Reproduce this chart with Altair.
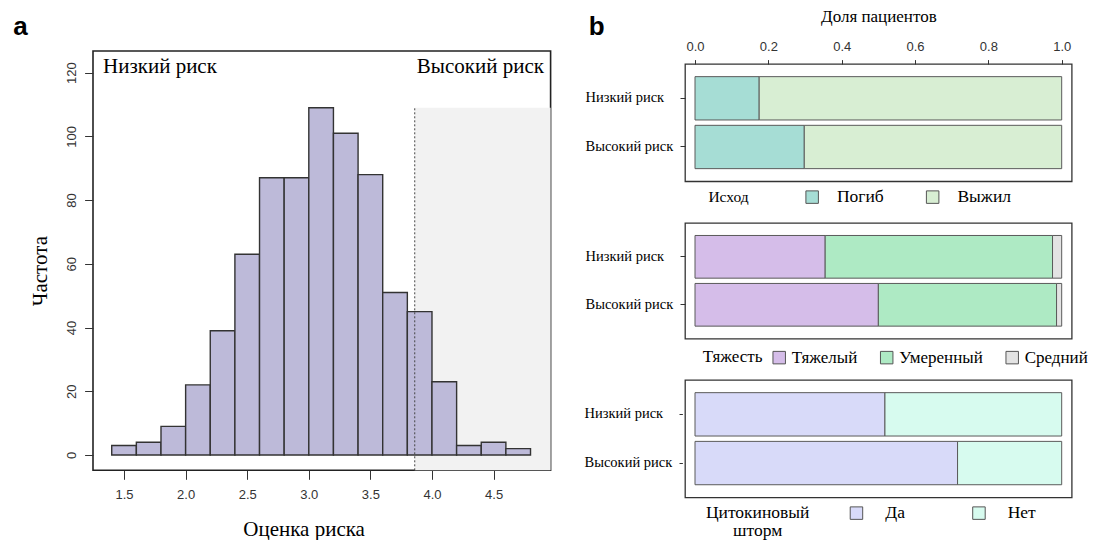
import altair as alt
import pandas as pd

# ---------- panel a: distribution of the risk score ----------
BIN_EDGES = [1.4, 1.6, 1.8, 2.0, 2.2, 2.4, 2.6, 2.8, 3.0, 3.2, 3.4,
             3.6, 3.8, 4.0, 4.2, 4.4, 4.6, 4.8]
BIN_COUNTS = [3, 4, 9, 22, 39, 63, 87, 87, 109, 101, 88, 51, 45, 23, 3, 4, 2]
RISK_CUTOFF = 3.86
SCORE_TICKS = [1.5, 2.0, 2.5, 3.0, 3.5, 4.0, 4.5]
COUNT_TICKS = [0, 20, 40, 60, 80, 100, 120]

# ---------- panel b: shares of patients by risk group ----------
GROUPS = ["Низкий риск", "Высокий риск"]
OUTCOME = ["Погиб", "Выжил"]
OUTCOME_LOW = [0.175, 0.825]
OUTCOME_HIGH = [0.298, 0.702]
SEVERITY = ["Тяжелый", "Умеренный", "Средний"]
SEVERITY_LOW = [0.355, 0.620, 0.025]
SEVERITY_HIGH = [0.500, 0.486, 0.014]
STORM = ["Да", "Нет"]
STORM_LOW = [0.518, 0.482]
STORM_HIGH = [0.716, 0.284]
SHARE_TICKS = [0.0, 0.2, 0.4, 0.6, 0.8, 1.0]

SERIF = "Liberation Serif"
SANS = "Liberation Sans"

# ---------------- panel a ----------------
A_W, A_H = 457.6, 419.3
X_DOM = [1.248, 4.963]
Y_DOM = [-4.8, 126.8]
peak = max(BIN_COUNTS)

hist = pd.DataFrame({"start": BIN_EDGES[:-1], "end": BIN_EDGES[1:], "count": BIN_COUNTS})
zone = pd.DataFrame({"x": [RISK_CUTOFF], "x2": [X_DOM[1]], "y": [Y_DOM[0]], "y2": [peak]})
one = pd.DataFrame({"k": [0]})

x_axis_a = alt.Axis(values=SCORE_TICKS, format=".1f", domain=False, grid=False,
                    tickSize=9, tickColor="#333", tickWidth=1,
                    labelFont=SANS, labelFontSize=13, labelColor="#333",
                    labelPadding=9.4, labelFlush=False,
                    title="Оценка риска", titleFont=SERIF, titleFontSize=21,
                    titleFontWeight="normal", titleColor="black",
                    titleX=210.6, titleY=65.2, titleAlign="center",
                    titleBaseline="alphabetic")
y_axis_a = alt.Axis(values=COUNT_TICKS, format="d", domain=False, grid=False,
                    tickSize=8.4, tickColor="#333", tickWidth=1,
                    labelAngle=270, labelAlign="center", labelBaseline="bottom",
                    labelFont=SANS, labelFontSize=13, labelColor="#333",
                    labelPadding=6, labelFlush=False,
                    title="Частота", titleFont=SERIF, titleFontSize=21,
                    titleFontWeight="normal", titleColor="black",
                    titleAngle=270, titleX=-46.7, titleY=219.6,
                    titleAlign="center", titleBaseline="alphabetic")
x_scale_a = alt.Scale(domain=X_DOM, nice=False, zero=False)
y_scale_a = alt.Scale(domain=Y_DOM, nice=False, zero=False)


def xa(field):
    return alt.X(f"{field}:Q", scale=x_scale_a, axis=x_axis_a)


def ya(field):
    return alt.Y(f"{field}:Q", scale=y_scale_a, axis=y_axis_a)


high_zone = alt.Chart(zone).mark_rect(color="#f2f2f2").encode(
    x=xa("x"), x2="x2", y=ya("y"), y2="y2")

bars_a = alt.Chart(hist).transform_calculate(base="0").mark_rect(
    fill="#bdbad9", stroke="#333", strokeWidth=1.4
).encode(x=xa("start"), x2="end", y=ya("count"), y2="base:Q")

cutoff_line = alt.Chart(zone).mark_rule(
    color="#444", strokeWidth=1, strokeDash=[2, 2]
).encode(x=xa("x"), y=ya("y"), y2="y2")

low_label = alt.Chart(one).mark_text(
    text="Низкий риск", font=SERIF, fontSize=21, align="left",
    baseline="alphabetic", color="black"
).encode(x=alt.value(10), y=alt.value(22))

high_label = alt.Chart(one).mark_text(
    text="Высокий риск", font=SERIF, fontSize=21, align="right",
    baseline="alphabetic", color="black"
).encode(x=alt.value(451), y=alt.value(22))

tag_a = alt.Chart(one).mark_text(
    text="a", font=SANS, fontSize=26, fontWeight="bold", align="left",
    baseline="alphabetic", color="black"
).encode(x=alt.value(12 - 91.7), y=alt.value(34 - 50))

# invisible corner marker that pins the canvas origin
corner = alt.Chart(one).mark_rect(opacity=0).encode(
    x=alt.value(-91.7), x2=alt.value(-90.7), y=alt.value(-50), y2=alt.value(-49))

panel_a = alt.layer(high_zone, bars_a, cutoff_line, low_label, high_label,
                    tag_a, corner).properties(
    width=A_W, height=A_H,
    view=alt.ViewBackground(stroke="#222", strokeWidth=1.6))

# ---------------- panel b ----------------
B_W = 386.7
SHARE_DOM = [-0.0273, 1.0273]


def share_table(cats, low, high):
    rows = []
    for g, vals in zip(GROUPS, [low, high]):
        for i, (c, v) in enumerate(zip(cats, vals)):
            rows.append({"group": g, "cat": c, "value": v, "order": i})
    return pd.DataFrame(rows)


def share_bars(cats, low, high, colors, x_axis, y_axis, legend):
    return alt.Chart(share_table(cats, low, high)).mark_bar(
        stroke="#5a5a5a", strokeWidth=1
    ).encode(
        x=alt.X("value:Q", stack="zero",
                scale=alt.Scale(domain=SHARE_DOM, nice=False, zero=False),
                axis=x_axis),
        y=alt.Y("group:N", sort=GROUPS,
                scale=alt.Scale(paddingInner=0.11, paddingOuter=0.26),
                axis=y_axis),
        color=alt.Color("cat:N", sort=cats,
                        scale=alt.Scale(domain=cats, range=colors),
                        legend=legend),
        order=alt.Order("order:Q"),
    )


def group_axis(tick=5.0, offset=0.0):
    return alt.Axis(title=None, domain=False, grid=False, tickSize=tick,
                    tickColor="#333", tickWidth=1, offset=offset,
                    labelAlign="left", labelBaseline="middle",
                    labelPadding=100 - tick - offset + (1 if offset else 0),
                    labelFont=SERIF, labelFontSize=14.5, labelColor="black")


def make_legend(x, y, title_pad, col_pad, label_off, title_size,
                label_size=17.5, **kw):
    return alt.Legend(orient="none", legendX=x, legendY=y,
                      direction="horizontal", titleOrient="left",
                      titlePadding=title_pad, columnPadding=col_pad,
                      labelOffset=label_off, symbolType="square",
                      symbolSize=156, symbolStrokeColor="#555",
                      symbolStrokeWidth=1, labelFont=SERIF,
                      labelFontSize=label_size,
                      labelColor="black", titleFont=SERIF,
                      titleFontSize=title_size, titleFontWeight="normal",
                      titleColor="black", padding=0, **kw)


share_axis = alt.Axis(orient="top", values=SHARE_TICKS, format=".1f",
                      domain=False, grid=False, tickSize=4.4, tickColor="#333",
                      tickWidth=1, labelFont=SANS, labelFontSize=13,
                      labelColor="#333", labelPadding=5.9, labelFlush=False,
                      title="Доля пациентов", titleFont=SERIF, titleFontSize=17,
                      titleFontWeight="normal", titleColor="black",
                      titleY=-42.7, titleBaseline="alphabetic")

outcome_bars = share_bars(
    OUTCOME, OUTCOME_LOW, OUTCOME_HIGH, ["#a6ddd5", "#d8eed3"],
    share_axis, group_axis(),
    make_legend(23.4, 124, 54, 39.5, 16, 15.5, title="Исход",
                titleBaseline="middle"))

tag_b = alt.Chart(one).mark_text(
    text="b", font=SANS, fontSize=26, fontWeight="bold", align="left",
    baseline="alphabetic", color="black"
).encode(x=alt.value(587 - 683.3), y=alt.value(34 - 62.7))

panel_b1 = alt.layer(outcome_bars, tag_b).properties(
    width=B_W, height=117.3,
    view=alt.ViewBackground(stroke="#333", strokeWidth=1.3))

panel_b2 = share_bars(
    SEVERITY, SEVERITY_LOW, SEVERITY_HIGH, ["#d5bde9", "#aeeac4", "#e3e3e3"],
    None, group_axis(),
    make_legend(17.7, 126, 8, 20.5, 4, 17, label_size=17, title="Тяжесть",
                titleBaseline="middle")
).properties(width=B_W, height=115.6,
             view=alt.ViewBackground(stroke="#333", strokeWidth=1.3))

panel_b3 = share_bars(
    STORM, STORM_LOW, STORM_HIGH, ["#d8daf9", "#d7fbef"],
    None, group_axis(tick=3.4, offset=2.6),
    make_legend(20.7, 124, -14, 64.5, 20, 17.5,
                title=["Цитокиновый", "шторм"], titleBaseline="top",
                titleAlign="center", titleLineHeight=18)
).properties(width=B_W, height=117.4,
             view=alt.ViewBackground(stroke="#333", strokeWidth=1.3))

spacer = alt.Chart(one).mark_point(opacity=0).encode(
    x=alt.X("k:Q", axis=None), y=alt.Y("k:Q", axis=None)
).properties(width=B_W, height=12.7,
             view=alt.ViewBackground(stroke="transparent"))

stack_b = alt.vconcat(panel_b1, panel_b2, panel_b3, spacing=41,
                      bounds="flush").resolve_scale(
    x="independent", y="independent", color="independent")

column_b = alt.vconcat(spacer, stack_b, spacing=0, bounds="flush").resolve_scale(
    x="independent", y="independent", color="independent")

chart = alt.hconcat(panel_a, column_b, spacing=134, bounds="flush").resolve_scale(
    x="independent", y="independent", color="independent"
).properties(padding=0, background="white").configure_view(stroke="transparent")

chart.save("out.html", embed_options={"renderer": "svg", "actions": False})
